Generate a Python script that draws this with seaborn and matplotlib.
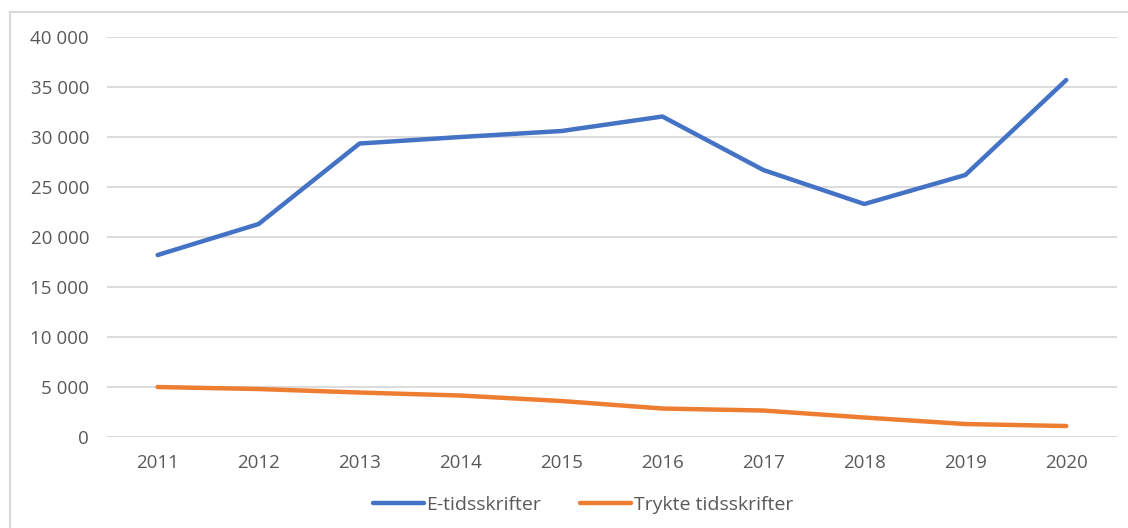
import pandas as pd
import numpy as np
import matplotlib.pyplot as plt
import seaborn as sns
from matplotlib.patches import Rectangle
from matplotlib.lines import Line2D

years = [2011, 2012, 2013, 2014, 2015, 2016, 2017, 2018, 2019, 2020]
e_tidsskrifter = [18200, 21300, 29350, 30000, 30600, 32050, 26700, 23300, 26200, 35700]
trykte_tidsskrifter = [5000, 4800, 4450, 4150, 3600, 2850, 2650, 1950, 1300, 1100]
series_names = ["E-tidsskrifter", "Trykte tidsskrifter"]
colors = ["#4472c4", "#ed7d31"]

df = pd.DataFrame({
    "Year": years * 2,
    "Value": e_tidsskrifter + trykte_tidsskrifter,
    "Serie": [series_names[0]] * len(years) + [series_names[1]] * len(years),
})
df["Pos"] = df["Year"] - years[0]

sns.set_theme(style="white")
plt.rcParams["font.family"] = ["Open Sans", "DejaVu Sans"]

fig = plt.figure(figsize=(11.28, 5.28), dpi=100)
ax = fig.add_axes([0.095, 0.1723, 0.895, 0.7576])

sns.lineplot(data=df, x="Pos", y="Value", hue="Serie", palette=colors,
             linewidth=3.2, ax=ax, legend=False, solid_capstyle="round")

ax.set_xlim(-0.5, len(years) - 0.5)
ax.set_ylim(0, 40000)
ax.set_yticks(np.arange(0, 40001, 5000))
ax.set_yticklabels([f"{v:,}".replace(",", " ") for v in range(0, 40001, 5000)])
ax.set_xticks(range(len(years)))
ax.set_xticklabels([str(y) for y in years])
ax.tick_params(colors="#595959", labelsize=13.5, length=0)
ax.tick_params(axis="x", pad=12)
ax.tick_params(axis="y", pad=13)
ax.grid(axis="y", color="#d9d9d9", linewidth=1.3)
ax.set_axisbelow(True)
for s in ax.spines.values():
    s.set_visible(False)
ax.set_xlabel("")
ax.set_ylabel("")

# legend
handles = [Line2D([0], [0], color=c, linewidth=3.2, solid_capstyle="round") for c in colors]
leg = fig.legend(handles, series_names, loc="center", bbox_to_anchor=(0.517, 0.044),
                 ncol=2, frameon=False, fontsize=14, handlelength=2.6,
                 handletextpad=0.15, columnspacing=2.0)
for t in leg.get_texts():
    t.set_color("#595959")

# outer frame of the chart area
fig.patches.append(Rectangle((10 / 1128, -0.1), 1.2, 1 - 12 / 528 + 0.1,
                             transform=fig.transFigure, fill=False,
                             edgecolor="#d9d9d9", linewidth=1.5))

fig.savefig("out.png", dpi=100)
